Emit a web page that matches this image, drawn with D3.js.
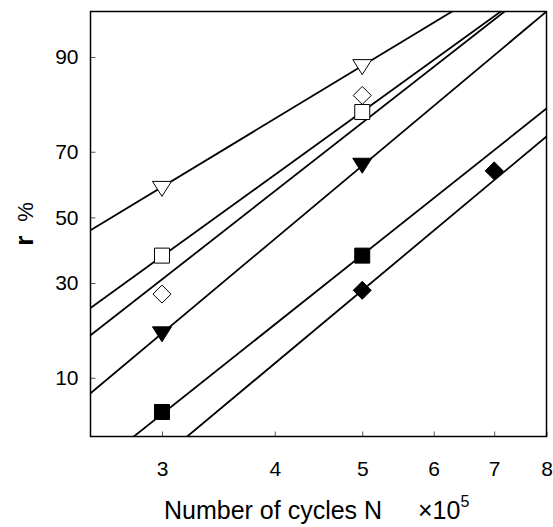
<!DOCTYPE html>
<html>
<head>
<meta charset="utf-8">
<script src="https://cdn.jsdelivr.net/npm/d3@7"></script>
<style>
  body { margin: 0; background: #fff; }
  text { font-family: "Liberation Sans", Arial, sans-serif; fill: #000; }
</style>
</head>
<body>
<svg id="chart"></svg>
<script>
// data (number of cycles in units of 10^5, r in %)
const cycles = [3, 5, 7];
const openTriangle = [59, 88.5, null];
const openSquare = [38, 80, null];
const openDiamond = [27, 83.5, null];
const filledTriangle = [17.5, 66, null];
const filledSquare = [6, 38, null];
const filledDiamond = [null, 28, 64.5];

// fitted lines, value of r at N = 3 and N = 5
const fitCycles = [3, 5];
const fitOpenTriangle = [59.6, 88.7];
const fitOpenSquare = [37.8, 80.1];
const fitOpenDiamond = [31.0, 77.5];
const fitFilledTriangle = [17.7, 66.0];
const fitFilledSquare = [5.8, 38.2];
const fitFilledDiamond = [2.75, 28.0];

const xTicks = [3, 4, 5, 6, 7, 8];
const yTicks = [10, 30, 50, 70, 90];

// constants
const width = 553;
const height = 527;
const plot = { left: 90.5, right: 546.5, top: 11.5, bottom: 436.5 };

const svg = d3.select('#chart')
  .attr('width', width)
  .attr('height', height);

// inverse of the normal cdf (Acklam), for the probability axis
function probit(p) {
  const a = [-39.69683028665376, 220.9460984245205, -275.9285104469687, 138.3577518672690, -30.66479806614716, 2.506628277459239];
  const b = [-54.47609879822406, 161.5858368580409, -155.6989798598866, 66.80131188771972, -13.28068155288572];
  const c = [-0.007784894002430293, -0.3223964580411365, -2.400758277161838, -2.549732539343734, 4.374664141464968, 2.938163982698783];
  const d = [0.007784695709041462, 0.3224671290700398, 2.445134137142996, 3.754408661907416];
  const pl = 0.02425;
  let q, r;
  if (p < pl) {
    q = Math.sqrt(-2 * Math.log(p));
    return (((((c[0]*q+c[1])*q+c[2])*q+c[3])*q+c[4])*q+c[5]) / ((((d[0]*q+d[1])*q+d[2])*q+d[3])*q+1);
  }
  if (p > 1 - pl) {
    q = Math.sqrt(-2 * Math.log(1 - p));
    return -(((((c[0]*q+c[1])*q+c[2])*q+c[3])*q+c[4])*q+c[5]) / ((((d[0]*q+d[1])*q+d[2])*q+d[3])*q+1);
  }
  q = p - 0.5;
  r = q * q;
  return (((((a[0]*r+a[1])*r+a[2])*r+a[3])*r+a[4])*r+a[5])*q / (((((b[0]*r+b[1])*r+b[2])*r+b[3])*r+b[4])*r+1);
}

// scales
const xScale = d3.scaleLog()
  .domain([2.5, 8])
  .range([plot.left, plot.right]);

const zScale = d3.scaleLinear()
  .domain([probit(0.04), probit(0.95)])
  .range([plot.bottom, plot.top]);

const yScale = v => zScale(probit(v / 100));

// clip for the fitted lines
svg.append('clipPath')
  .attr('id', 'clip')
  .append('rect')
  .attr('x', plot.left)
  .attr('y', plot.top)
  .attr('width', plot.right - plot.left)
  .attr('height', plot.bottom - plot.top);

// axes (ticks pointing inward)
svg.append('g')
  .attr('transform', 'translate(0,' + plot.bottom + ')')
  .call(d3.axisBottom(xScale)
    .tickValues(xTicks)
    .tickFormat(d3.format('d'))
    .tickSizeInner(-5)
    .tickSizeOuter(0)
    .tickPadding(25))
  .call(g => g.select('.domain').remove())
  .call(g => g.selectAll('line').attr('stroke', '#555'))
  .call(g => g.selectAll('text').attr('font-size', 21));

svg.append('g')
  .attr('transform', 'translate(' + plot.left + ',0)')
  .call(d3.axisLeft(zScale)
    .tickValues(yTicks.map(v => probit(v / 100)))
    .tickFormat((d, i) => yTicks[i])
    .tickSizeInner(-5)
    .tickSizeOuter(0)
    .tickPadding(12))
  .call(g => g.select('.domain').remove())
  .call(g => g.selectAll('line').attr('stroke', '#555'))
  .call(g => g.selectAll('text').attr('font-size', 21));

// fitted lines, straight in log N / probit space, extended over the whole plot
const fits = [fitOpenTriangle, fitOpenSquare, fitOpenDiamond, fitFilledTriangle, fitFilledSquare, fitFilledDiamond];
const lx = fitCycles.map(Math.log10);

function fitLine(f) {
  const z = f.map(v => probit(v / 100));
  const slope = (z[1] - z[0]) / (lx[1] - lx[0]);
  return xScale.domain().map(n => [xScale(n), zScale(z[0] + slope * (Math.log10(n) - lx[0]))]);
}

svg.append('g')
  .attr('clip-path', 'url(#clip)')
  .selectAll('.fit')
  .data(fits)
  .enter().append('path')
  .attr('class', 'fit')
  .attr('d', f => d3.line()(fitLine(f)))
  .attr('fill', 'none')
  .attr('stroke', '#000')
  .attr('stroke-width', 1.8);

// markers
const shapes = {
  triangle: 'M-9.5,-7.5L9.5,-7.5L0,7.5Z',
  square: 'M-7.5,-7.5H7.5V7.5H-7.5Z',
  diamond: 'M0,-9L9,0L0,9L-9,0Z',
};

const series = [
  { values: openTriangle, shape: 'triangle', fill: '#fff' },
  { values: openSquare, shape: 'square', fill: '#fff' },
  { values: openDiamond, shape: 'diamond', fill: '#fff' },
  { values: filledTriangle, shape: 'triangle', fill: '#000' },
  { values: filledSquare, shape: 'square', fill: '#000' },
  { values: filledDiamond, shape: 'diamond', fill: '#000' },
];

series.forEach(s => {
  svg.append('g')
    .selectAll('path')
    .data(cycles.map((n, i) => ({ n: n, v: s.values[i] })).filter(d => d.v != null))
    .enter().append('path')
    .attr('d', shapes[s.shape])
    .attr('transform', d => 'translate(' + xScale(d.n) + ',' + yScale(d.v) + ')')
    .attr('fill', s.fill)
    .attr('stroke', '#000')
    .attr('stroke-width', 1);
});

// frame
svg.append('rect')
  .attr('x', plot.left)
  .attr('y', plot.top)
  .attr('width', plot.right - plot.left)
  .attr('height', plot.bottom - plot.top)
  .attr('fill', 'none')
  .attr('stroke', '#000')
  .attr('stroke-width', 1.5);

// axis titles
const xTitle = svg.append('text')
  .attr('y', 519)
  .attr('font-size', 25);
xTitle.append('tspan').attr('x', 164).text('Number of cycles N');
xTitle.append('tspan').attr('x', 418).text('\u00d710');
xTitle.append('tspan').attr('dy', -12).attr('font-size', 16).text('5');

const yTitle = svg.append('text')
  .attr('transform', 'translate(33,224) rotate(-90)')
  .attr('text-anchor', 'middle');
yTitle.append('tspan').attr('font-size', 26).attr('font-weight', 'bold').text('r');
yTitle.append('tspan').attr('dx', 14).attr('font-size', 22).text('%');
</script>
</body>
</html>
